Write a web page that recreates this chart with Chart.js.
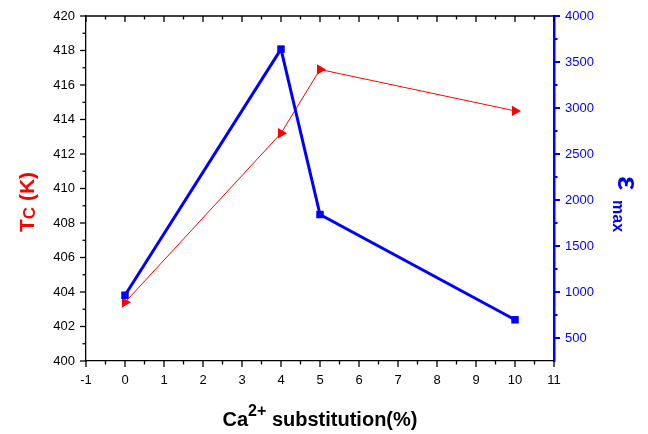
<!DOCTYPE html>
<html>
<head>
<meta charset="utf-8">
<script src="https://cdn.jsdelivr.net/npm/chart.js@4/dist/chart.umd.min.js"></script>
<style>
  html, body { margin: 0; padding: 0; background: #fff; }
  #wrap { width: 648px; height: 434px; position: relative; }
</style>
</head>
<body>
<div id="wrap"><canvas id="c" width="648" height="434"></canvas></div>
<script>
// ---- data ----
const caSubstitution = [0, 4, 5, 10];
const tcValues = [403.4, 413.2, 416.9, 414.5];
const epsMaxValues = [965, 3640, 1842, 698];
const xTickValues = [-1, 0, 1, 2, 3, 4, 5, 6, 7, 8, 9, 10, 11];
const tcTickValues = [400, 402, 404, 406, 408, 410, 412, 414, 416, 418, 420];
const epsTickValues = [500, 1000, 1500, 2000, 2500, 3000, 3500, 4000];

const RED = '#FF0000';
const BLUE = '#0000FF';
const FONT = "'Liberation Sans', Arial, Helvetica, sans-serif";

function line(ctx, x1, y1, x2, y2) {
  ctx.beginPath(); ctx.moveTo(x1, y1); ctx.lineTo(x2, y2); ctx.stroke();
}

const decor = {
  id: 'decor',
  afterDraw(chart) {
    const ctx = chart.ctx;
    const { left, right, top, bottom } = chart.chartArea;
    const xs = chart.scales.x, ys = chart.scales.y, y2 = chart.scales.y2;
    ctx.save();
    ctx.lineCap = 'butt';
    // top frame line
    ctx.strokeStyle = '#000';
    ctx.lineWidth = 1.3;
    line(ctx, left, top, right, top);
    // x ticks (bottom outward, top inward), minor at halves
    for (let i = 0; i < xTickValues.length; i++) {
      const v = xTickValues[i];
      const px = xs.getPixelForValue(v);
      line(ctx, px, bottom, px, bottom + 6);
      line(ctx, px, top, px, top + 6);
      if (i < xTickValues.length - 1) {
        const mv = (v + xTickValues[i + 1]) / 2;
        const mp = xs.getPixelForValue(mv);
        line(ctx, mp, bottom, mp, bottom + 3.5);
        line(ctx, mp, top, mp, top + 3.5);
      }
    }
    // left y ticks
    for (let i = 0; i < tcTickValues.length; i++) {
      const v = tcTickValues[i];
      const py = ys.getPixelForValue(v);
      line(ctx, left, py, left - 6, py);
      if (i < tcTickValues.length - 1) {
        const mp = ys.getPixelForValue((v + tcTickValues[i + 1]) / 2);
        line(ctx, left, mp, left - 3.5, mp);
      }
    }
    // right y2 ticks
    ctx.strokeStyle = BLUE;
    ctx.lineWidth = 2;
    for (let i = 0; i < epsTickValues.length; i++) {
      const v = epsTickValues[i];
      const py = y2.getPixelForValue(v);
      line(ctx, right, py, right + 6, py);
      if (i < epsTickValues.length - 1) {
        const mp = y2.getPixelForValue((v + epsTickValues[i + 1]) / 2);
        line(ctx, right, mp, right + 3.5, mp);
      }
    }

    // ---- x title: Ca^{2+} substitution(%)
    ctx.fillStyle = '#000';
    ctx.textBaseline = 'alphabetic';
    ctx.textAlign = 'left';
    const segs = [
      { t: 'Ca', f: 'bold 20px ' + FONT, dy: 0 },
      { t: '2+', f: 'bold 16px ' + FONT, dy: -10 },
      { t: ' substitution(%)', f: 'bold 20px ' + FONT, dy: 0 }
    ];
    let tw = 0;
    segs.forEach(s => { ctx.font = s.f; s.w = ctx.measureText(s.t).width; tw += s.w; });
    let cx = (left + right) / 2 - tw / 2;
    segs.forEach(s => { ctx.font = s.f; ctx.fillText(s.t, cx, 426 + s.dy); cx += s.w; });

    // ---- left title: T_C (K) rotated -90
    ctx.save();
    ctx.fillStyle = RED;
    const lsegs = [
      { t: 'T', f: 'bold 21px ' + FONT, dy: 0 },
      { t: 'C', f: 'bold 17px ' + FONT, dy: 1 },
      { t: ' (K)', f: 'bold 21px ' + FONT, dy: 0 }
    ];
    let lw = 0;
    lsegs.forEach(s => { ctx.font = s.f; s.w = ctx.measureText(s.t).width; lw += s.w; });
    ctx.translate(34, 202);
    ctx.rotate(-Math.PI / 2);
    let lx = -lw / 2;
    lsegs.forEach(s => { ctx.font = s.f; ctx.fillText(s.t, lx, s.dy); lx += s.w; });
    ctx.restore();

    // ---- right title: ε_max rotated +90
    ctx.save();
    ctx.fillStyle = BLUE;
    ctx.translate(618, 176);
    ctx.rotate(Math.PI / 2);
    ctx.font = 'bold 30px ' + FONT;
    ctx.fillText('\u03B5', 0, 0);
    ctx.font = 'bold 16px ' + FONT;
    ctx.fillText('max', 24, 5);
    ctx.restore();

    ctx.restore();
  }
};

new Chart(document.getElementById('c'), {
  type: 'line',
  data: {
    datasets: [
      {
        label: 'Tc',
        yAxisID: 'y',
        data: caSubstitution.map((x, i) => ({ x: x, y: tcValues[i] })),
        borderColor: RED,
        backgroundColor: RED,
        borderWidth: 1,
        pointStyle: 'triangle',
        pointRotation: 90,
        pointRadius: 6,
        pointBorderWidth: 0,
        pointBackgroundColor: RED,
        order: 2,
        tension: 0
      },
      {
        label: 'eps max',
        yAxisID: 'y2',
        data: caSubstitution.map((x, i) => ({ x: x, y: epsMaxValues[i] })),
        borderColor: BLUE,
        backgroundColor: BLUE,
        borderWidth: 3,
        pointStyle: 'rect',
        pointRadius: 5.3,
        pointBorderWidth: 0,
        pointBackgroundColor: BLUE,
        order: 1,
        tension: 0
      }
    ]
  },
  options: {
    responsive: false,
    animation: false,
    devicePixelRatio: 1,
    layout: { padding: { top: 16, left: 0, right: 0, bottom: 0 } },
    plugins: { legend: { display: false }, tooltip: { enabled: false }, title: { display: false } },
    scales: {
      x: {
        type: 'linear',
        position: 'bottom',
        min: -1, max: 11,
        afterBuildTicks: s => { s.ticks = xTickValues.map(v => ({ value: v })); },
        afterFit: s => { s.height = 73; },
        grid: { display: true, drawOnChartArea: false, drawTicks: true, tickLength: 6, color: 'rgba(0,0,0,0)' },
        border: { display: true, color: '#000', width: 1.3 },
        ticks: { color: '#000', font: { family: FONT, size: 13 }, padding: 6, maxRotation: 0, autoSkip: false,
                 callback: v => String(v) }
      },
      y: {
        type: 'linear',
        position: 'left',
        min: 400, max: 420,
        afterBuildTicks: s => { s.ticks = tcTickValues.map(v => ({ value: v })); },
        afterFit: s => { s.width = 86; },
        grid: { display: true, drawOnChartArea: false, drawTicks: true, tickLength: 6, color: 'rgba(0,0,0,0)' },
        border: { display: true, color: '#000', width: 1.3 },
        ticks: { color: '#000', font: { family: FONT, size: 13 }, padding: 5, autoSkip: false,
                 callback: v => String(v) }
      },
      y2: {
        type: 'linear',
        position: 'right',
        min: 250, max: 4000,
        afterBuildTicks: s => { s.ticks = epsTickValues.map(v => ({ value: v })); },
        afterFit: s => { s.width = 94; },
        grid: { display: true, drawOnChartArea: false, drawTicks: true, tickLength: 6, color: 'rgba(0,0,0,0)' },
        border: { display: true, color: BLUE, width: 2.5 },
        ticks: { color: BLUE, font: { family: FONT, size: 13 }, padding: 5, autoSkip: false,
                 callback: v => String(v) }
      }
    }
  },
  plugins: [decor]
});
</script>
</body>
</html>
